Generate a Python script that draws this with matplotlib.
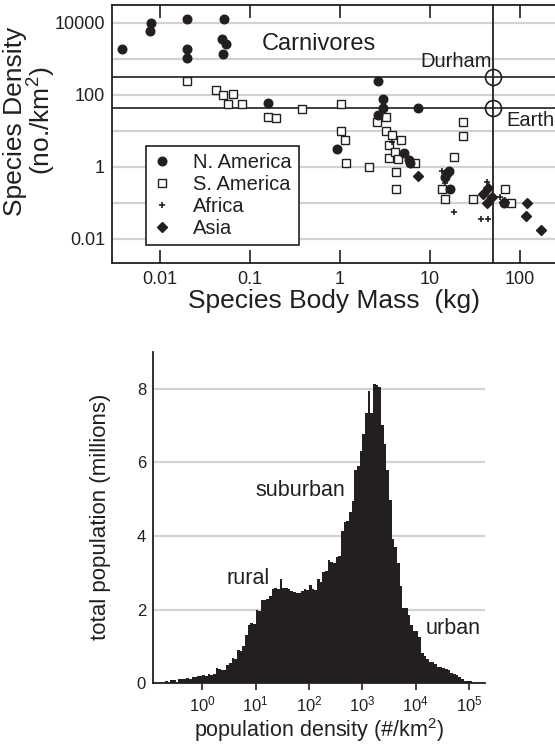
import numpy as np
import matplotlib
matplotlib.use("Agg")
import matplotlib.pyplot as plt
from matplotlib.ticker import NullLocator

plt.rcParams["font.family"] = ["Liberation Sans", "DejaVu Sans"]
plt.rcParams["mathtext.fontset"] = "custom"
plt.rcParams["mathtext.rm"] = "Liberation Sans"
plt.rcParams["mathtext.it"] = "Liberation Sans:italic"
plt.rcParams["mathtext.bf"] = "Liberation Sans:bold"

INK = "#231f20"
GRID = "#d2d2d2"

# ---------------- carnivores: body mass (kg) vs density (no./km^2) -------------
na_mass = [0.0038, 0.0079, 0.0078, 0.020, 0.020, 0.020, 0.052, 0.0485, 0.054,
           0.0505, 0.157, 2.62, 3.0, 3.0, 2.67, 7.36, 0.92, 5.18, 5.89, 6.0,
           16.4, 15.3, 14.7, 16.7, 66]
na_density = [1820, 10000, 5900, 12700, 1820, 1030, 12700, 3460, 2510,
              1350, 57.7, 245, 76, 41.9, 27.3, 43.6, 3.1, 2.45, 1.53, 1.24,
              0.774, 0.656, 0.527, 0.240, 0.1]

sa_mass = [0.020, 0.0416, 0.0505, 0.0652, 0.0565, 0.082, 0.157, 0.193, 0.375,
           1.03, 1.02, 1.14, 1.17, 2.12, 2.6, 3.22, 3.22, 3.5, 3.5, 3.81, 4.72,
           4.08, 4.44, 4.19, 4.19, 6.81, 23.4, 23.4, 18.6, 13.7, 14.7, 29.8,
           68, 78.9]
sa_density = [240, 135, 98, 103, 54, 54, 23.5, 22.1, 40,
              54, 9.8, 5.5, 1.29, 0.96, 17.8, 23.5, 10, 4.0, 1.78, 7.6, 5.5,
              2.61, 1.61, 0.726, 0.236, 1.24, 17.1, 7.1, 1.8, 0.236, 0.124, 0.124,
              0.236, 0.1]

af_mass = [13.7, 14.7, 18.6, 36.9, 44.5, 42.6, 60, 3.78]
af_density = [0.774, 0.346, 0.056, 0.0352, 0.0352, 0.369, 0.147, 4.85]

as_mass = [7.41, 39.1, 44.5, 48.5, 42.6, 67, 118.6, 116.6, 170]
as_density = [0.562, 0.171, 0.248, 0.147, 0.096, 0.103, 0.096, 0.0428, 0.0175]

human_mass = 50
durham_density = 300
earth_density = 42

mass_ticks = [0.01, 0.1, 1, 10, 100]
mass_labels = ["0.01", "0.1", "1", "10", "100"]
density_grid = [0.01, 0.1, 1, 10, 100, 1000, 10000]
density_labels = ["0.01", "", "1", "", "100", "", "10000"]

# ---------------- population density histogram -------------------------------
hist_log_start = -0.75
hist_log_step = 0.05
hist_pop = [
    0.0, 0.06, 0.0, 0.10, 0.10, 0.0, 0.11, 0.11, 0.13, 0.14,
    0.12, 0.17, 0.18, 0.19, 0.21, 0.22, 0.20, 0.25, 0.23, 0.24,
    0.41, 0.38, 0.36, 0.36, 0.50, 0.56, 0.70, 0.66, 0.90, 0.87,
    1.00, 1.32, 1.58, 1.63, 1.62, 1.98, 1.97, 2.27, 2.25, 2.30,
    2.36, 2.55, 2.58, 2.56, 2.83, 2.60, 2.58, 2.55, 2.52, 2.49,
    2.46, 2.46, 2.50, 2.56, 2.54, 2.68, 2.55, 2.54, 2.83, 2.75,
    3.02, 3.05, 3.36, 3.30, 3.27, 3.42, 3.45, 4.13, 4.37, 4.40,
    4.64, 4.94, 5.79, 5.90, 6.30, 6.78, 7.35, 7.94, 7.35, 8.12,
    8.10, 8.05, 7.01, 6.49, 5.79, 4.99, 3.92, 3.70, 3.27, 2.63,
    2.04, 2.04, 1.86, 1.59, 1.41, 1.41, 1.27, 0.82, 0.73, 0.65,
    0.59, 0.59, 0.53, 0.45, 0.45, 0.41, 0.38, 0.35, 0.29, 0.25,
    0.23, 0.18, 0.11, 0.05, 0.05, 0.07, 0.02,
]
pop_ticks = [1, 10, 100, 1000, 10000, 100000]
pop_tick_labels = ["$10^{0}$", "$10^{1}$", "$10^{2}$", "$10^{3}$",
                   "$10^{4}$", "$10^{5}$"]
count_ticks = [0, 2, 4, 6, 8]

W, H = 555, 745
fig = plt.figure(figsize=(W / 100, H / 100), dpi=100)

# ============================ top panel =======================================
ax1 = fig.add_axes([112 / W, 1 - 263 / H, (W - 112) / W, 258 / H])
ax1.set_xscale("log")
ax1.set_yscale("log")
ax1.set_xlim(10 ** -2.533, 10 ** 2.389)
ax1.set_ylim(10 ** -2.675, 10 ** 4.49)

ax1.set_yticks(density_grid)
ax1.set_yticklabels(density_labels)
ax1.yaxis.set_minor_locator(NullLocator())
ax1.set_xticks(mass_ticks)
ax1.set_xticklabels(mass_labels)
ax1.xaxis.set_minor_locator(NullLocator())
ax1.tick_params(axis="y", length=0, pad=5, labelsize=13, colors=INK)
ax1.tick_params(axis="x", direction="in", length=9.3, width=1.2, top=True,
                pad=6, labelsize=13, colors=INK)
ax1.yaxis.grid(True, color=GRID, lw=1.6, zorder=0)
ax1.set_axisbelow(True)
for side in ("left", "top", "bottom"):
    ax1.spines[side].set_linewidth(1.3)
    ax1.spines[side].set_color(INK)
ax1.spines["right"].set_visible(False)

# human reference lines
ax1.axhline(durham_density, color=INK, lw=1.2, zorder=1)
ax1.axhline(earth_density, color=INK, lw=1.2, zorder=1)
ax1.axvline(human_mass, color=INK, lw=1.3, zorder=1)
ax1.plot([human_mass, human_mass], [durham_density, earth_density], "o",
         mfc="none", mec=INK, ms=11.5, mew=1.2, zorder=3)

ax1.plot(na_mass, na_density, "o", ls="none", color=INK, ms=6.2,
         label="N. America", zorder=4)
ax1.plot(sa_mass, sa_density, "s", ls="none", mfc="white", mec=INK, ms=5.2,
         mew=1.0, label="S. America", zorder=3)
ax1.plot(af_mass, af_density, "+", ls="none", color=INK, ms=5, mew=1.2,
         label="Africa", zorder=4)
ax1.plot(as_mass, as_density, "D", ls="none", color=INK, ms=5.4,
         label="Asia", zorder=4)

ax1.text(0.136, 1745, "Carnivores", fontsize=17, color=INK, va="baseline")
ax1.text(48.5, 600, "Durham", fontsize=14.5, color=INK, ha="right",
         va="baseline")
ax1.text(69.8, 13.5, "Earth", fontsize=14.5, color=INK, va="baseline")

leg = ax1.legend(loc="lower left", bbox_to_anchor=(0.0767, 0.0698),
                 borderaxespad=0, frameon=True, fancybox=False,
                 edgecolor=INK, framealpha=1, fontsize=14.5,
                 handlelength=0.9, handletextpad=1.1, borderpad=0.35,
                 labelspacing=0.15)
leg.get_frame().set_linewidth(1.2)
for t in leg.get_texts():
    t.set_color(INK)

ax1.set_xlabel("Species Body Mass  (kg)", fontsize=19, color=INK)
ax1.set_ylabel("Species Density\n(no./km$^2$)", fontsize=19, color=INK,
               linespacing=0.95)
ax1.yaxis.set_label_coords(-0.122, 0.55)
ax1.xaxis.set_label_coords(0.5, -0.1)

# ============================ bottom panel ====================================
ax2 = fig.add_axes([153 / W, 1 - 683.3 / H, 332 / W, 331.3 / H])
edges = 10 ** (hist_log_start + hist_log_step * np.arange(len(hist_pop) + 1))
ax2.stairs(hist_pop, edges, fill=True, color=INK, lw=0, zorder=2)
ax2.set_xscale("log")
ax2.set_xlim(10 ** -0.925, 10 ** 5.3)
ax2.set_ylim(0, 9)
ax2.set_xticks(pop_ticks)
ax2.set_xticklabels(pop_tick_labels)
ax2.xaxis.set_minor_locator(NullLocator())
ax2.set_yticks(count_ticks)
ax2.tick_params(axis="y", length=0, pad=5, labelsize=12, colors=INK)
ax2.tick_params(axis="x", direction="out", length=5, width=1.2, pad=3,
                labelsize=12, colors=INK)
ax2.yaxis.grid(True, color=GRID, lw=1.6, zorder=0)
ax2.set_axisbelow(True)
for side in ("left", "bottom"):
    ax2.spines[side].set_linewidth(1.3)
    ax2.spines[side].set_color(INK)
ax2.spines["top"].set_visible(False)
ax2.spines["right"].set_visible(False)

ax2.text(9.75, 5.08, "suburban", fontsize=15.5, color=INK, va="baseline")
ax2.text(2.78, 2.70, "rural", fontsize=15.5, color=INK, va="baseline")
ax2.text(15070, 1.34, "urban", fontsize=15.5, color=INK, va="baseline")

ax2.set_xlabel("population density (#/km$^2$)", fontsize=15.5, color=INK,
               va="baseline")
ax2.set_ylabel("total population (millions)", fontsize=16, color=INK)
ax2.yaxis.set_label_coords(-0.127, 0.502)
ax2.xaxis.set_label_coords(0.5, -0.162)

fig.savefig("out.png", dpi=100)
